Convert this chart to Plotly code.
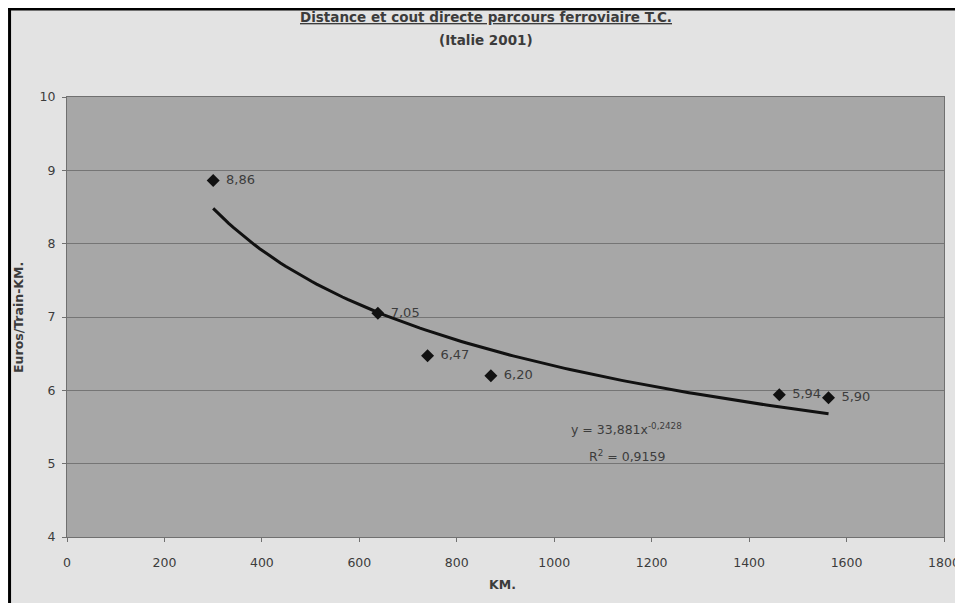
import plotly.graph_objects as go

# Data
km = [300, 638, 740, 870, 1462, 1563]
euros = [8.86, 7.05, 6.47, 6.20, 5.94, 5.90]
labels = ["8,86", "7,05", "6,47", "6,20", "5,94", "5,90"]

# Power trendline coefficients as printed on the chart
coef_a = 33.881
coef_b = -0.2428
eq_text = "y = 33,881x<sup>-0,2428</sup>"
r2_text = "R<sup>2</sup> = 0,9159"

title_1 = "Distance et cout directe parcours ferroviaire T.C."
title_2 = "(Italie 2001)"
x_title = "KM."
y_title = "Euros/Train-KM."

x_ticks = [0, 200, 400, 600, 800, 1000, 1200, 1400, 1600, 1800]
y_ticks = [4, 5, 6, 7, 8, 9, 10]

# Trendline evaluated over the data range (Excel power trendline)
n = 120
tx = [km[0] + (km[-1] - km[0]) * i / (n - 1) for i in range(n)]
ty = [coef_a * v ** coef_b for v in tx]

font = "DejaVu Sans, Liberation Sans, sans-serif"
txt = "#3c3c3c"

fig = go.Figure()
fig.add_trace(go.Scatter(x=tx, y=ty, mode="lines",
                         line=dict(color="#111111", width=3),
                         hoverinfo="skip", showlegend=False))
# data labels (transparent larger marker gives label spacing)
fig.add_trace(go.Scatter(x=km, y=euros, mode="markers+text",
                         marker=dict(symbol="diamond", size=19, color="rgba(0,0,0,0)"),
                         text=labels, textposition="middle right",
                         textfont=dict(family=font, size=13, color=txt),
                         hoverinfo="skip", showlegend=False))
fig.add_trace(go.Scatter(x=km, y=euros, mode="markers",
                         marker=dict(symbol="diamond", size=10, color="#111111"),
                         showlegend=False))

def ann(x, y, text, size=12.5, angle=0):
    fig.add_annotation(x=x, y=y, xref="paper", yref="paper", text=text,
                       showarrow=False, xanchor="center", yanchor="middle",
                       textangle=angle,
                       font=dict(family=font, size=size, color=txt))

ann(0.6385, 0.2455, eq_text)
ann(0.6385, 0.184, r2_text)
ann(0.4778, 1.1818, "<b><u>" + title_1 + "</u></b>", size=13.5)
ann(0.4778, 1.1295, "<b>" + title_2 + "</b>", size=13.5)
ann(0.497, -0.109, "<b>" + x_title + "</b>")
ann(-0.0559, 0.5, "<b>" + y_title + "</b>", angle=-90)

# black frame lines (top and left) of the scanned picture
fig.add_shape(type="line", xref="paper", yref="paper",
              x0=-0.068, x1=1.1, y0=1.2, y1=1.2,
              line=dict(color="#000000", width=3))
fig.add_shape(type="line", xref="paper", yref="paper",
              x0=-0.0655, x1=-0.0655, y0=-0.3, y1=1.2,
              line=dict(color="#000000", width=3))

fig.update_layout(
    width=947, height=595,
    margin=dict(l=59, r=11, t=89, b=66, autoexpand=False),
    paper_bgcolor="#e3e3e3",
    plot_bgcolor="#a7a7a7",
    font=dict(family=font, size=12, color=txt),
    xaxis=dict(range=[0, 1800], tickvals=x_ticks, ticktext=[str(v) for v in x_ticks],
               showgrid=False, zeroline=False, showline=True,
               linecolor="#707070", linewidth=1, mirror=True,
               ticks="outside", ticklen=4, tickcolor="#707070",
               ticklabelstandoff=10, ticklabeloverflow="allow",
               tickfont=dict(family=font, size=12.5, color=txt)),
    yaxis=dict(range=[4, 10], tickvals=y_ticks, ticktext=[str(v) for v in y_ticks],
               showgrid=True, gridcolor="#757575", gridwidth=1, zeroline=False,
               showline=True, linecolor="#707070", linewidth=1, mirror=True,
               ticks="outside", ticklen=4, tickcolor="#707070",
               ticklabelstandoff=4,
               tickfont=dict(family=font, size=12.5, color=txt)),
)

fig.write_html("out.html",
               post_script="document.body.style.margin='8px 0 0 8px';"
                           "document.documentElement.style.overflow='hidden';")
